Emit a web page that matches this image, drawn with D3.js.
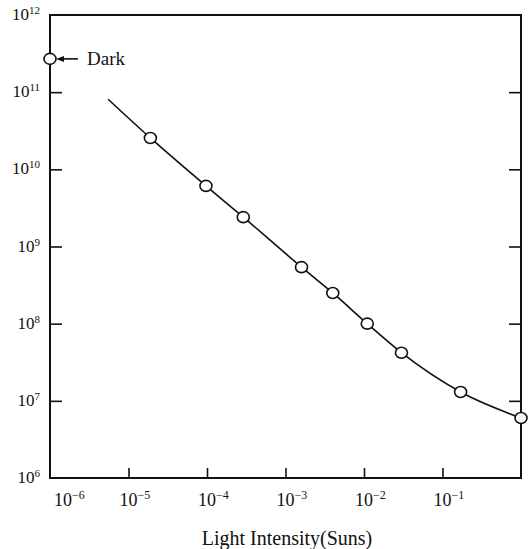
<!DOCTYPE html>
<html>
<head>
<meta charset="utf-8">
<script src="https://cdn.jsdelivr.net/npm/d3@7"></script>
<style>
  body { margin: 0; background: #fff; }
  text { font-family: "Liberation Serif", "DejaVu Serif", serif; fill: #111; }
</style>
</head>
<body>
<svg width="530" height="549"></svg>
<script>
// measured points (light intensity in suns, value)
const intensity = [1.9e-5, 9.7e-5, 2.9e-4, 1.6e-3, 4.0e-3, 1.1e-2, 3.0e-2, 0.17, 1.0];
const values = [2.55e10, 6.1e9, 2.4e9, 5.4e8, 2.5e8, 1.0e8, 4.2e7, 1.3e7, 6.0e6];
// dark value, drawn on the left edge
const darkValue = 2.7e11;
// drawn curve: starts a bit before the first point
const curveIntensity = [5.5e-6, 1.9e-5, 9.7e-5, 2.9e-4, 1.6e-3, 4.0e-3, 1.1e-2, 3.0e-2, 0.17, 1.0];
const curveValue = [8.1e10, 2.55e10, 6.1e9, 2.4e9, 5.4e8, 2.5e8, 1.0e8, 4.2e7, 1.3e7, 6.0e6];
// tick labels
const xTicks = [1e-6, 1e-5, 1e-4, 1e-3, 1e-2, 1e-1];
const xExp = ["6", "5", "4", "3", "2", "1"];
const yTicks = [1e6, 1e7, 1e8, 1e9, 1e10, 1e11, 1e12];
const yExp = ["6", "7", "8", "9", "10", "11", "12"];

const svg = d3.select("svg");
const plot = { left: 50, right: 521, top: 15, bottom: 478 };

const x = d3.scaleLog().domain([1e-6, 1]).range([plot.left, plot.right]);
const y = d3.scaleLog().domain([1e6, 1e12]).range([plot.bottom, plot.top]);

// inner ticks, left and right
svg.append("g")
    .attr("transform", `translate(${plot.left},0)`)
    .call(d3.axisLeft(y).tickValues(yTicks.slice(1, -1)).tickSize(-12).tickFormat(""))
    .call(g => g.select(".domain").remove());
svg.append("g")
    .attr("transform", `translate(${plot.right},0)`)
    .call(d3.axisRight(y).tickValues(yTicks.slice(1, -1)).tickSize(-12).tickFormat(""))
    .call(g => g.select(".domain").remove());
// bottom ticks
svg.append("g")
    .attr("transform", `translate(0,${plot.bottom})`)
    .call(d3.axisBottom(x).tickValues(xTicks.slice(1)).tickSize(-10).tickFormat(""))
    .call(g => g.select(".domain").remove());
svg.selectAll(".tick line").attr("stroke", "#111").attr("stroke-width", 1.6);

// frame
svg.append("rect")
    .attr("x", plot.left).attr("y", plot.top)
    .attr("width", plot.right - plot.left).attr("height", plot.bottom - plot.top)
    .attr("fill", "none").attr("stroke", "#111").attr("stroke-width", 2);

// y labels
yTicks.forEach((v, i) => {
    const t = svg.append("text")
        .attr("x", 40).attr("y", y(v) + 5)
        .attr("text-anchor", "end")
        .style("font-size", "17px");
    t.append("tspan").text("10");
    t.append("tspan").attr("dy", -6).style("font-size", "11px").text(yExp[i]);
});

// x labels
xTicks.forEach((v, i) => {
    const sx = i === 0 ? x(v) + 4 : x(v) - 9;
    const t = svg.append("text")
        .attr("x", sx).attr("y", 506)
        .style("font-size", "18px");
    t.append("tspan").text("10");
    t.append("tspan").attr("dy", -7).style("font-size", "12px").text("\u2212" + xExp[i]);
});

// axis title
svg.append("text")
    .attr("x", 287).attr("y", 545)
    .attr("text-anchor", "middle")
    .style("font-size", "20px")
    .text("Light Intensity(Suns)");

// curve
const line = d3.line()
    .x(d => x(d[0]))
    .y(d => y(d[1]))
    .curve(d3.curveMonotoneX);
svg.append("path")
    .datum(curveIntensity.map((v, i) => [v, curveValue[i]]))
    .attr("d", line)
    .attr("fill", "none")
    .attr("stroke", "#111")
    .attr("stroke-width", 1.6);

// points
svg.selectAll(".pt")
    .data(intensity.map((v, i) => [v, values[i]]))
    .enter().append("ellipse")
    .attr("class", "pt")
    .attr("cx", d => x(d[0]))
    .attr("cy", d => y(d[1]))
    .attr("rx", 6).attr("ry", 5.5)
    .attr("fill", "#fff")
    .attr("stroke", "#111")
    .attr("stroke-width", 1.6);

// dark point with arrow
const dy = y(darkValue);
svg.append("line")
    .attr("x1", plot.left + 10).attr("x2", 78)
    .attr("y1", dy).attr("y2", dy)
    .attr("stroke", "#111").attr("stroke-width", 1.6);
svg.append("path")
    .attr("d", `M${plot.left + 6},${dy} l8,-3 l0,6 z`)
    .attr("fill", "#111");
svg.append("ellipse")
    .attr("cx", plot.left).attr("cy", dy)
    .attr("rx", 6).attr("ry", 5.5)
    .attr("fill", "#fff").attr("stroke", "#111").attr("stroke-width", 1.6);
svg.append("text")
    .attr("x", 87).attr("y", dy + 6)
    .style("font-size", "19px")
    .text("Dark");
</script>
</body>
</html>
